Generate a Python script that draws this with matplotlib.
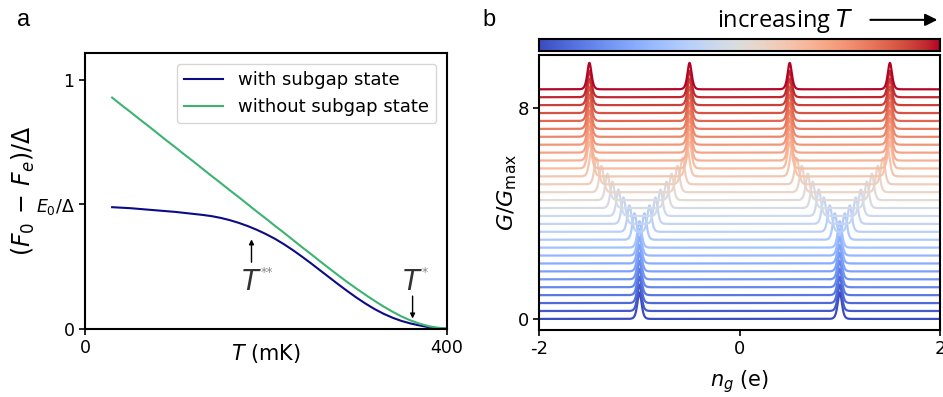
import numpy as np
import matplotlib
matplotlib.use('Agg')
import matplotlib.pyplot as plt
from matplotlib.patches import FancyArrowPatch

# panel a: free energy difference vs temperature
T_mK = [30, 40, 50, 60, 70, 80, 90, 100, 110, 120, 130, 140, 150, 160, 170, 180,
        190, 200, 210, 220, 230, 240, 250, 260, 270, 280, 290, 300, 310, 320,
        330, 340, 350, 360, 370, 380, 390, 400]
dF_without = [0.929, 0.900, 0.872, 0.843, 0.815, 0.786, 0.757, 0.729, 0.700, 0.672,
              0.643, 0.614, 0.586, 0.557, 0.529, 0.500, 0.471, 0.443, 0.414, 0.386,
              0.357, 0.328, 0.300, 0.271, 0.243, 0.215, 0.188, 0.162, 0.137, 0.113,
              0.090, 0.069, 0.050, 0.034, 0.021, 0.011, 0.005, 0.002]
dF_with = [0.489, 0.487, 0.485, 0.482, 0.479, 0.476, 0.473, 0.470, 0.466, 0.462,
           0.458, 0.453, 0.446, 0.437, 0.426, 0.413, 0.398, 0.381, 0.362, 0.340,
           0.316, 0.290, 0.263, 0.235, 0.207, 0.179, 0.152, 0.126, 0.102, 0.080,
           0.061, 0.045, 0.032, 0.022, 0.014, 0.007, 0.003, 0.001]
E0_over_Delta = 0.5
T_starstar = 184
T_star = 362

# panel b: conductance traces, one per temperature
n_curves = 30
split = [0, 0, 0, 0, 0, 0, 0, 0, 0, 0,
         0.05, 0.10, 0.16, 0.21, 0.27, 0.32, 0.38, 0.43, 0.48, 0.50,
         0.50, 0.50, 0.50, 0.50, 0.50, 0.50, 0.50, 0.50, 0.50, 0.50]
peak_centres = [-1, 1]
peak_width = 0.028
offset = 0.3

fig = plt.figure(figsize=(9.43, 3.97), dpi=100)

# ---- panel a
ax = fig.add_axes([0.0901, 0.1713, 0.3839, 0.6952])
ax.plot(T_mK, dF_with, color='#0b0b85', lw=1.5, label='with subgap state')
ax.plot(T_mK, dF_without, color='#3cb371', lw=1.5, label='without subgap state')
ax.set_xlim(0, 400)
ax.set_ylim(0, 1.108)
ax.set_xticks([0, 400])
ax.set_yticks([0, E0_over_Delta, 1])
ax.set_yticklabels(['0', r'$E_0/\Delta$', '1'])
ax.tick_params(labelsize=12.5, length=4, width=1.2)
ax.set_xlabel(r'$T$ (mK)', fontsize=15, labelpad=-11)
ax.set_ylabel(r'$(F_0\,-\,F_e)/\Delta$', fontsize=17, labelpad=-1)
for s in ax.spines.values():
    s.set_linewidth(1.5)
leg = ax.legend(loc='upper right', fontsize=13, handlelength=2.2, borderaxespad=0.6)
leg.get_frame().set_edgecolor('#cccccc')

# arrows marking T** and T*
for t, stars, y0, y1 in [(T_starstar, '**', 0.268, 0.360), (T_star, '*', 0.132, 0.042)]:
    ax.annotate('', xy=(t, y1), xytext=(t, y0),
                arrowprops=dict(arrowstyle='-|>', lw=1, color='k', mutation_scale=7,
                                shrinkA=0, shrinkB=0))
    ax.text(t, 0.157, r'$T$', fontsize=20, color='#333333', ha='center', va='baseline')
    ax.annotate(stars, xy=(t, 0.157), xytext=(6.5, 10), textcoords='offset points',
                fontsize=9, color='#888888', ha='left', va='baseline')
fig.text(0.018, 0.935, 'a', fontsize=17, family='Liberation Sans')

# ---- panel b
bx = fig.add_axes([0.5719, 0.1688, 0.4249, 0.6927])
ng = np.linspace(-2, 2, 4001)
cmap = plt.get_cmap('coolwarm')
for k in range(n_curves):
    g = np.zeros_like(ng)
    for c in peak_centres:
        for p in (c - split[k], c + split[k]):
            g += 1 / np.cosh((ng - p) / peak_width) ** 2
    g = g / g.max()
    bx.plot(ng, g + k * offset, color=cmap(k / (n_curves - 1)), lw=1.6)
bx.set_xlim(-2, 2)
bx.set_ylim(-0.42, 10.0)
bx.set_xticks([-2, 0, 2])
bx.set_xticklabels(['-2', '0', '2'])
bx.set_yticks([0, 8])
bx.tick_params(labelsize=13, length=4, width=1.2)
bx.set_xlabel(r'$n_g$ (e)', fontsize=15, labelpad=7)
bx.set_ylabel(r'$G/G_{\mathrm{max}}$', fontsize=16, labelpad=-1)
for s in bx.spines.values():
    s.set_linewidth(1.5)

# temperature colour bar
cx = fig.add_axes([0.5719, 0.8723, 0.4249, 0.0287])
cx.imshow(np.linspace(0, 1, 256)[None, :], cmap='coolwarm', aspect='auto')
cx.set_xticks([])
cx.set_yticks([])
for s in cx.spines.values():
    s.set_linewidth(1.5)

fig.text(0.905, 0.933, r'increasing $T$', fontsize=17, family='Open Sans',
         ha='right', va='baseline')
fig.add_artist(FancyArrowPatch(
    (0.920, 0.950), (0.997, 0.950), transform=fig.transFigure,
    arrowstyle='-|>', mutation_scale=18, lw=1.5, color='k'))
fig.text(0.512, 0.935, 'b', fontsize=17, family='Liberation Sans')

fig.savefig('out.png', dpi=100)
